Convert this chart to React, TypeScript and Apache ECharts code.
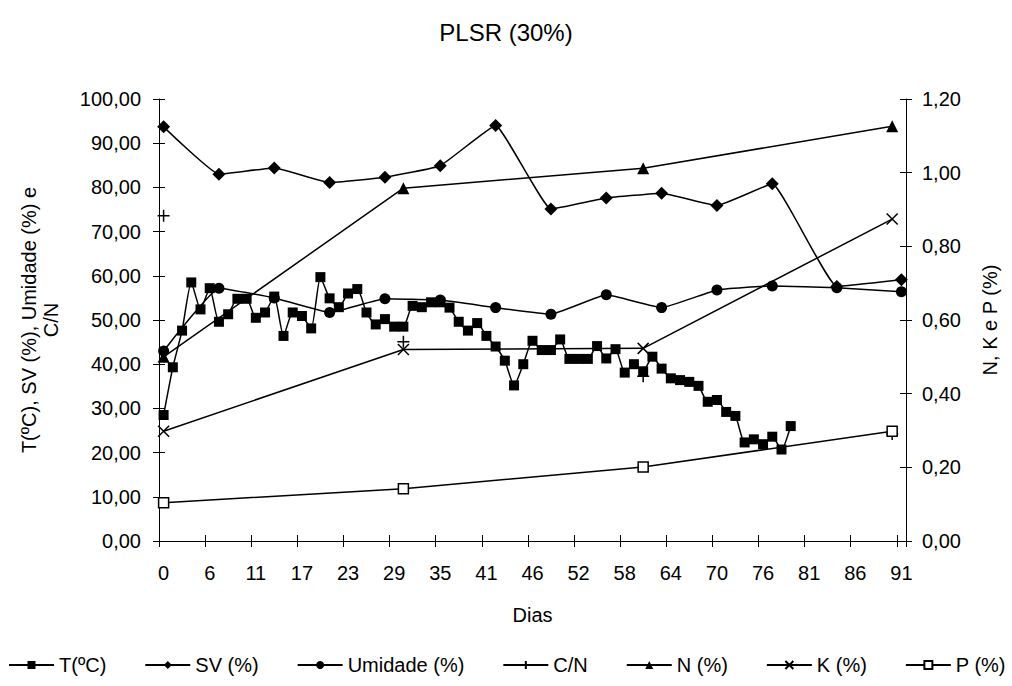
import React, { useEffect, useRef } from "react";
import * as echarts from "echarts";

// x axis: 81 sampling slots, a day label every 5th slot
const slotCount = 81;
const dayTickLabels = ["0", "6", "11", "17", "23", "29", "35", "41", "46", "52", "58", "64", "70", "76", "81", "86", "91"];

// T (ºC), one value per slot from slot 0
const tempValues = [
  28.5, 39.3, 47.6, 58.5, 52.4, 57.2, 49.6, 51.3, 54.8, 54.8,
  50.5, 51.7, 55.3, 46.4, 51.7, 50.9, 48.1, 59.7, 54.9, 52.9,
  56.0, 57.0, 51.7, 49.0, 50.2, 48.5, 48.5, 53.2, 52.9, 54.0,
  54.0, 52.8, 49.6, 47.6, 49.3, 46.4, 44.0, 40.8, 35.2, 40.0,
  45.3, 43.2, 43.2, 45.6, 41.2, 41.2, 41.2, 44.1, 41.3, 43.4,
  38.1, 40.0, 38.4, 41.7, 39.0, 36.8, 36.4, 36.0, 35.1, 31.5,
  31.9, 29.2, 28.3, 22.3, 23.0, 21.9, 23.6, 20.7, 26.0,
];

// SV (%) and Umidade (%) sampled at these slots
const weeklySlots = [0, 6, 12, 18, 24, 30, 36, 42, 48, 54, 60, 66, 73, 80];
const svValues = [93.7, 83.0, 84.4, 81.1, 82.3, 84.9, 94.0, 75.1, 77.6, 78.7, 75.9, 80.8, 57.6, 59.1];
const umidadeValues = [43.0, 57.2, 55.0, 51.7, 54.8, 54.5, 52.8, 51.3, 55.7, 52.8, 56.8, 57.7, 57.3, 56.4];

// C/N, N, K, P sampled at these slots
const nutrientSlots = [0, 26, 52, 79];
const cnValues = [73.6, 45.1, 37.3, 24.2];
const nValues = [0.5, 0.958, 1.012, 1.126];
const kValues = [0.298, 0.52, 0.523, 0.874];
const pValues = [0.104, 0.142, 0.201, 0.298];

const FONT = "'Liberation Sans', Arial, sans-serif";
const categories = Array.from({ length: slotCount }, (_, i) => String(i));
const pairs = (slots: number[], vals: number[]) => slots.map((s, i) => [s, vals[i]]);
const sparseFull = (slots: number[], vals: number[]) => {
  const arr: (number | null)[] = new Array(slotCount).fill(null);
  slots.forEach((s, i) => (arr[s] = vals[i]));
  return arr;
};
const comma = (v: number) => v.toFixed(2).replace(".", ",");

const lineStyle = { color: "#000", width: 1.5 };
const baseSeries = {
  type: "line",
  smooth: false,
  showAllSymbol: true,
  lineStyle,
  z: 3,
};

export default function App() {
  const ref = useRef<HTMLDivElement>(null);
  useEffect(() => {
    const chart = echarts.init(ref.current!, null, { renderer: "svg" });
    const hiddenAxisPart = { show: false };
    const option: any = {
      animation: false,
      backgroundColor: "#fff",
      textStyle: { fontFamily: FONT, color: "#000" },
      title: {
        text: "PLSR (30%)",
        left: "center",
        top: 15,
        textStyle: { fontFamily: FONT, fontSize: 24, fontWeight: "normal", color: "#000" },
      },
      grid: { left: 159, right: 106, top: 99, bottom: 145 },
      legend: {
        left: 3,
        top: 650,
        itemWidth: 45,
        itemHeight: 10,
        itemGap: 38,
        textStyle: { fontFamily: FONT, fontSize: 20, color: "#000" },
        data: ["T(ºC)", "SV (%)", "Umidade (%)", "C/N", "N (%)", "K (%)", "P (%)"],
      },
      xAxis: [
        {
          type: "category",
          data: categories,
          boundaryGap: true,
          name: "Dias",
          nameLocation: "middle",
          nameGap: 64,
          nameTextStyle: { fontFamily: FONT, fontSize: 20, color: "#000" },
          axisLine: { lineStyle: { color: "#000", width: 1 } },
          axisTick: { show: true, interval: 4, length: 6, inside: false, lineStyle: { color: "#000" } },
          axisLabel: {
            interval: 4,
            margin: 22,
            fontFamily: FONT,
            fontSize: 20,
            color: "#000",
            formatter: (_v: string, idx: number) => dayTickLabels[idx / 5] ?? "",
          },
          splitLine: { show: false },
        },
        {
          type: "category",
          data: categories,
          boundaryGap: true,
          position: "bottom",
          axisLine: hiddenAxisPart,
          axisLabel: hiddenAxisPart,
          axisTick: { show: true, interval: 4, length: 6, inside: true, lineStyle: { color: "#000" } },
          splitLine: { show: false },
        },
      ],
      yAxis: [
        {
          type: "value",
          min: 0,
          max: 100,
          interval: 10,
          position: "left",
          name: "T(ºC), SV (%), Umidade (%) e\nC/N",
          nameLocation: "middle",
          nameGap: 97,
          nameTextStyle: { fontFamily: FONT, fontSize: 20, color: "#000", lineHeight: 22, align: "center" },
          axisLine: { show: true, lineStyle: { color: "#000", width: 1 } },
          axisTick: { show: true, length: 6, lineStyle: { color: "#000" } },
          axisLabel: { margin: 18, fontFamily: FONT, fontSize: 20, color: "#000", formatter: comma },
          splitLine: { show: false },
        },
        {
          type: "value",
          min: 0,
          max: 1.2,
          interval: 0.2,
          position: "right",
          name: "N, K e P (%)",
          nameLocation: "middle",
          nameGap: 74,
          nameTextStyle: { fontFamily: FONT, fontSize: 20, color: "#000" },
          axisLine: { show: true, lineStyle: { color: "#000", width: 1 } },
          axisTick: { show: true, length: 6, lineStyle: { color: "#000" } },
          axisLabel: { margin: 16, fontFamily: FONT, fontSize: 20, color: "#000", formatter: comma },
          splitLine: { show: false },
        },
        {
          type: "value",
          min: 0,
          max: 100,
          interval: 10,
          position: "left",
          axisLine: hiddenAxisPart,
          axisLabel: hiddenAxisPart,
          axisTick: { show: true, inside: true, length: 6, lineStyle: { color: "#000" } },
          splitLine: { show: false },
        },
        {
          type: "value",
          min: 0,
          max: 1.2,
          interval: 0.2,
          position: "right",
          axisLine: hiddenAxisPart,
          axisLabel: hiddenAxisPart,
          axisTick: { show: true, inside: true, length: 6, lineStyle: { color: "#000" } },
          splitLine: { show: false },
        },
      ],
      series: [
        {
          ...baseSeries,
          name: "T(ºC)",
          smooth: 0.2,
          yAxisIndex: 0,
          data: tempValues,
          symbol: "rect",
          symbolSize: 10,
          itemStyle: { color: "#000" },
        },
        {
          ...baseSeries,
          name: "SV (%)",
          smooth: 0.1,
          yAxisIndex: 0,
          data: pairs(weeklySlots, svValues),
          symbol: "diamond",
          symbolSize: 13,
          itemStyle: { color: "#000" },
        },
        {
          ...baseSeries,
          name: "Umidade (%)",
          smooth: 0.1,
          yAxisIndex: 0,
          data: pairs(weeklySlots, umidadeValues),
          symbol: "circle",
          symbolSize: 11,
          itemStyle: { color: "#000" },
        },
        {
          ...baseSeries,
          name: "C/N",
          yAxisIndex: 0,
          connectNulls: false,
          data: sparseFull(nutrientSlots, cnValues),
          symbol: "path://M5 0V10M0 5H10",
          symbolSize: 12,
          itemStyle: { color: "#000", borderColor: "#000", borderWidth: 1.5 },
        },
        {
          ...baseSeries,
          name: "N (%)",
          yAxisIndex: 1,
          data: pairs(nutrientSlots, nValues),
          symbol: "triangle",
          symbolSize: 12,
          itemStyle: { color: "#000" },
        },
        {
          ...baseSeries,
          name: "K (%)",
          yAxisIndex: 1,
          data: pairs(nutrientSlots, kValues),
          symbol: "path://M0 0L10 10M10 0L0 10",
          symbolSize: 11,
          itemStyle: { color: "#000", borderColor: "#000", borderWidth: 1.5 },
        },
        {
          ...baseSeries,
          name: "P (%)",
          yAxisIndex: 1,
          data: pairs(nutrientSlots, pValues),
          symbol: "rect",
          symbolSize: 10,
          itemStyle: { color: "#fff", borderColor: "#000", borderWidth: 1.5 },
        },
      ],
    };
    chart.setOption(option);
    return () => chart.dispose();
  }, []);
  return (
    <div
      ref={ref}
      style={{ position: "fixed", left: 0, top: 0, width: 1012, height: 686, background: "#fff" }}
    />
  );
}
